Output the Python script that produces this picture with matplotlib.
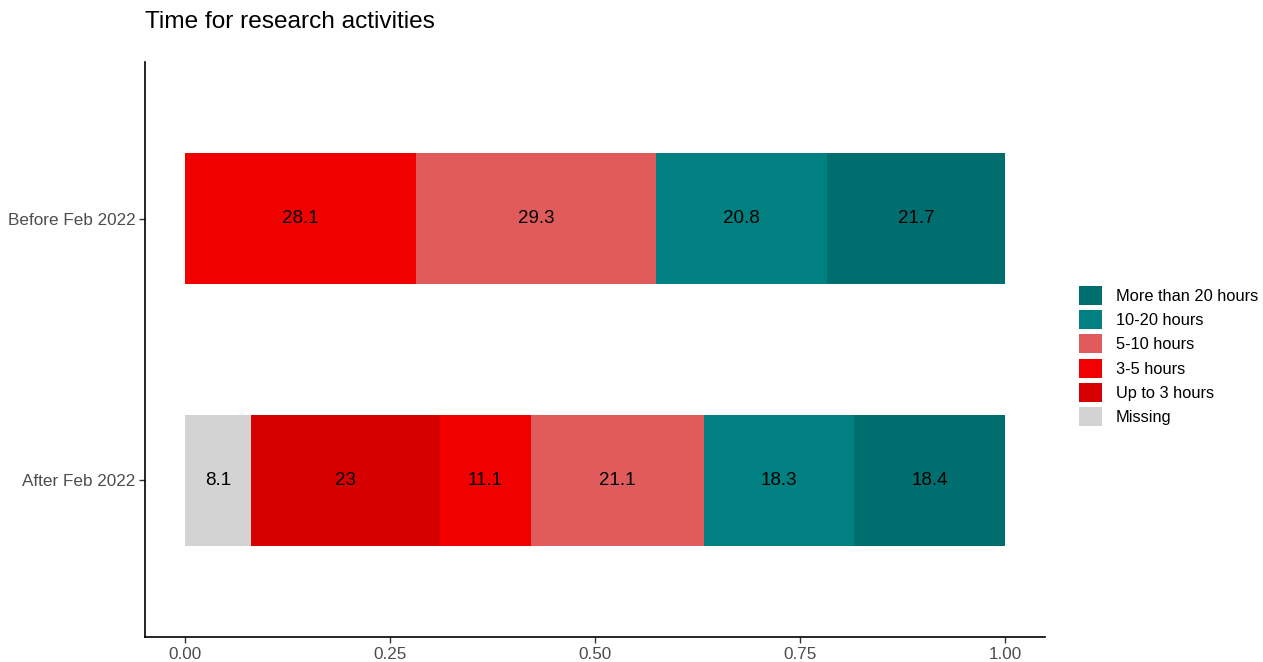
import matplotlib
matplotlib.use("Agg")
import matplotlib.pyplot as plt
from matplotlib.patches import Patch

plt.rcParams['font.family'] = ['Liberation Sans', 'DejaVu Sans']

groups = ["After Feb 2022", "Before Feb 2022"]
categories = ["Missing", "Up to 3 hours", "3-5 hours", "5-10 hours", "10-20 hours", "More than 20 hours"]
colors = ["#D3D3D3", "#D70000", "#F20000", "#E05C5C", "#008080", "#006E6E"]
after_vals = [8.1, 23, 11.1, 21.1, 18.3, 18.4]
before_vals = [0, 0, 28.1, 29.3, 20.8, 21.7]
series = [after_vals, before_vals]

fig = plt.figure(figsize=(12.63, 6.62), dpi=100)
ax = fig.add_axes([145/1263, 1-637/662, 900/1263, 575/662])

for yi, vals in enumerate(series):
    total = sum(vals)
    left = 0.0
    for v, c in zip(vals, colors):
        if v <= 0:
            continue
        w = v / total
        ax.barh(yi + 1, w, left=left, height=0.5, color=c, edgecolor='none')
        lab = f"{v:g}"
        ax.text(left + w / 2, yi + 1, lab, ha='center', va='center', fontsize=13.5, color='black')
        left += w

ax.set_xlim(-0.0488, 1.0488)
ax.set_ylim(0.4, 2.6)
ax.set_yticks([1, 2])
ax.set_yticklabels(groups)
ax.set_xticks([0, 0.25, 0.5, 0.75, 1.0])
ax.set_xticklabels(["0.00", "0.25", "0.50", "0.75", "1.00"])
for s in ['top', 'right']:
    ax.spines[s].set_visible(False)
for s in ['left', 'bottom']:
    ax.spines[s].set_linewidth(1.2)
ax.tick_params(axis='both', labelsize=12.3, labelcolor='#4D4D4D', color='#333333', length=4, width=1, pad=3)

fig.text(145/1263, 1-22/662, "Time for research activities", fontsize=17.6, ha='left', va='center')

handles = [Patch(facecolor=c, edgecolor='none') for c in reversed(colors)]
labels = list(reversed(categories))
fig.legend(handles, labels, loc='center left', bbox_to_anchor=(1079/1263, 1-356/662),
           frameon=False, fontsize=11.8, handlelength=1.4, handleheight=1.4,
           labelspacing=0.33, handletextpad=0.85, borderaxespad=0, borderpad=0)

fig.savefig("out.png", dpi=100)
